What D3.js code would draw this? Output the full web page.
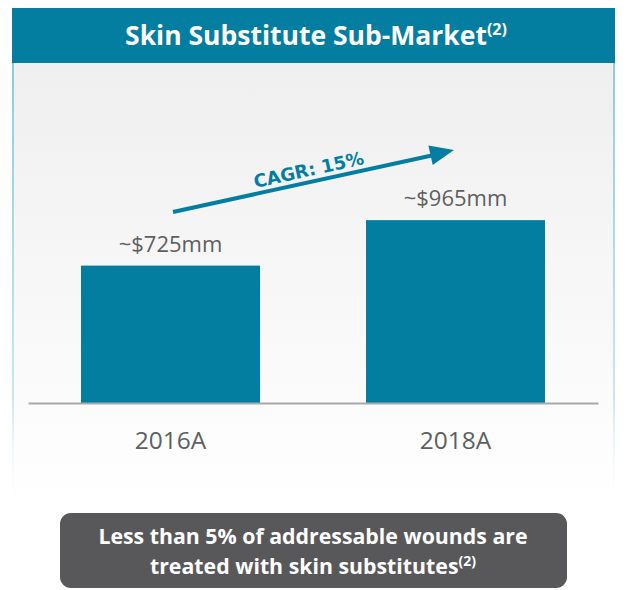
<!DOCTYPE html>
<html>
<head>
<meta charset="utf-8">
<script src="https://cdn.jsdelivr.net/npm/d3@7"></script>
<style>
  html, body { margin: 0; padding: 0; background: #ffffff; }
  svg { display: block; }
  text { font-variant-ligatures: none; }
</style>
</head>
<body>
<div id="chart"></div>
<script>
// Skin substitute sub-market size, $mm
const categories = ["2016A", "2018A"];
const values = [725, 965];
const valueLabels = ["~$725mm", "~$965mm"];
const cagrLabel = "CAGR: 15%";
const titleText = "Skin Substitute Sub-Market";
const footnoteLines = ["Less than 5% of addressable wounds are", "treated with skin substitutes"];

const W = 626, H = 590;
const teal = "#037ea1";
const grey = "#5f5f5f";
const sans = "'Open Sans', Lato, sans-serif";

const svg = d3.select("#chart").append("svg")
  .attr("width", W).attr("height", H);

const defs = svg.append("defs");
const grad = defs.append("linearGradient").attr("id", "panelFill")
  .attr("x1", 0).attr("y1", 0).attr("x2", 0).attr("y2", 1);
grad.append("stop").attr("offset", "0%").attr("stop-color", "#efefef");
grad.append("stop").attr("offset", "100%").attr("stop-color", "#ffffff");
const edge = defs.append("linearGradient").attr("id", "panelEdge")
  .attr("x1", 0).attr("y1", 0).attr("x2", 0).attr("y2", 1);
edge.append("stop").attr("offset", "0%").attr("stop-color", "#8fcbdc").attr("stop-opacity", 1);
edge.append("stop").attr("offset", "75%").attr("stop-color", "#bfe0ea").attr("stop-opacity", 0.8);
edge.append("stop").attr("offset", "100%").attr("stop-color", "#ffffff").attr("stop-opacity", 0);

// Panel body
svg.append("rect").attr("x", 12).attr("y", 62).attr("width", 603).attr("height", 445)
  .attr("fill", "url(#panelFill)");
svg.append("rect").attr("x", 12).attr("y", 62).attr("width", 2).attr("height", 445)
  .attr("fill", "url(#panelEdge)");
svg.append("rect").attr("x", 613).attr("y", 62).attr("width", 2).attr("height", 445)
  .attr("fill", "url(#panelEdge)");

// Header band
svg.append("rect").attr("x", 12).attr("y", 8).attr("width", 603).attr("height", 55)
  .attr("fill", teal);
const title = svg.append("text").attr("x", 316).attr("y", 45)
  .attr("text-anchor", "middle")
  .attr("font-family", sans)
  .attr("font-weight", "bold").attr("font-size", 26.5).attr("fill", "#ffffff");
title.append("tspan").text(titleText);
title.append("tspan").attr("dy", -10).attr("font-size", 16).text("(2)");

// Scales
const x = d3.scaleBand().domain(categories).range([28, 598]).paddingInner(0.372).paddingOuter(0.186);
const y = d3.scaleLinear().domain([0, 1000]).range([403, 213.5]);

// Bars
svg.append("g").selectAll("rect").data(values).join("rect")
  .attr("x", (d, i) => x(categories[i]))
  .attr("y", d => y(d))
  .attr("width", x.bandwidth())
  .attr("height", d => y(0) - y(d))
  .attr("fill", teal);

// Baseline axis
const axis = svg.append("g").attr("transform", `translate(0,${y(0)})`)
  .call(d3.axisBottom(x).tickSize(0).tickPadding(28.5));
axis.select(".domain").attr("stroke", "#a9a9a9").attr("stroke-width", 2);
axis.selectAll(".tick text")
  .attr("font-family", sans)
  .attr("font-size", 24.5).attr("fill", grey);

// Value labels
svg.append("g").selectAll("text").data(values).join("text")
  .attr("x", (d, i) => x(categories[i]) + x.bandwidth() / 2)
  .attr("y", d => y(d) - 14)
  .attr("text-anchor", "middle")
  .attr("font-family", sans)
  .attr("font-size", 22).attr("fill", grey)
  .text((d, i) => valueLabels[i]);

// CAGR arrow
const a0 = [173, 212], a1 = [434, 155], tip = [454, 150];
svg.append("line").attr("x1", a0[0]).attr("y1", a0[1]).attr("x2", a1[0]).attr("y2", a1[1])
  .attr("stroke", teal).attr("stroke-width", 4);
const ang = Math.atan2(tip[1] - a0[1], tip[0] - a0[0]);
const hb = [tip[0] - 24 * Math.cos(ang), tip[1] - 24 * Math.sin(ang)];
const nx = -Math.sin(ang) * 10, ny = Math.cos(ang) * 10;
svg.append("path")
  .attr("d", `M${tip[0]},${tip[1]} L${hb[0] + nx},${hb[1] + ny} L${hb[0] - nx},${hb[1] - ny} Z`)
  .attr("fill", teal);
const deg = ang * 180 / Math.PI;
svg.append("text")
  .attr("transform", `translate(310,176) rotate(${deg})`)
  .attr("text-anchor", "middle")
  .attr("font-family", "'DejaVu Sans', Arial, sans-serif")
  .attr("font-weight", "bold").attr("font-size", 18).attr("fill", teal)
  .text(cagrLabel);

// Footnote box
svg.append("rect").attr("x", 60).attr("y", 513).attr("width", 507).attr("height", 75)
  .attr("rx", 11).attr("fill", "#58585a");
const foot = svg.append("g")
  .attr("font-family", sans)
  .attr("font-weight", "bold").attr("font-size", 21.3).attr("fill", "#ffffff")
  .attr("text-anchor", "middle");
foot.append("text").attr("x", 313).attr("y", 544).text(footnoteLines[0]);
const f2 = foot.append("text").attr("x", 313).attr("y", 574);
f2.append("tspan").text(footnoteLines[1]);
f2.append("tspan").attr("dy", -8).attr("font-size", 14).text("(2)");
</script>
</body>
</html>
